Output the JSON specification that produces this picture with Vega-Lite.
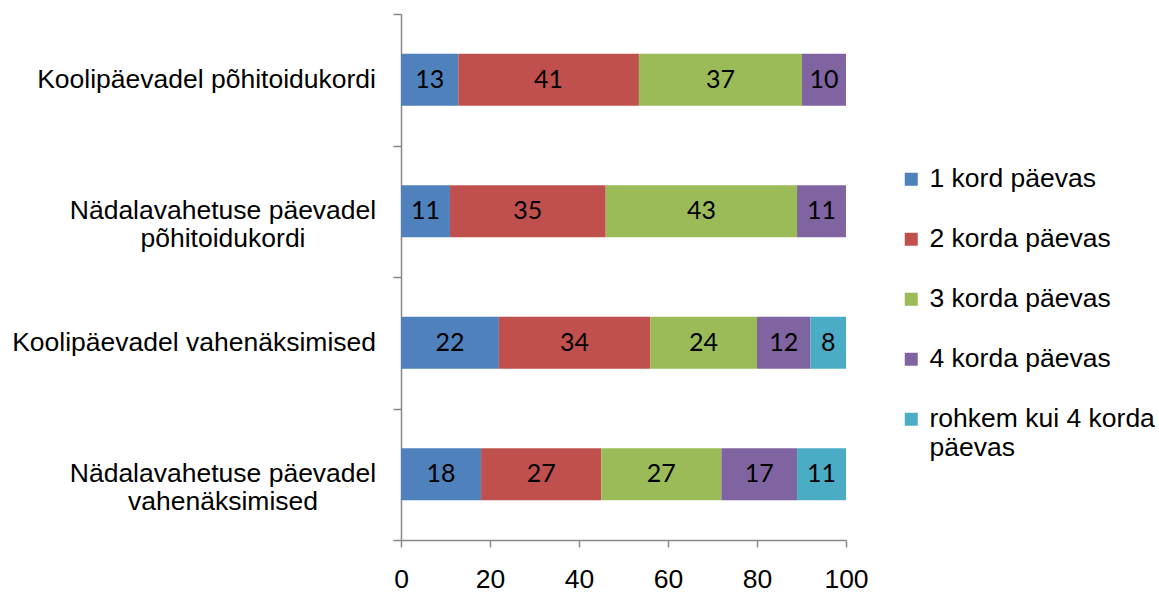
{
  "$schema": "https://vega.github.io/schema/vega-lite/v6.json",
  "autosize": {"type": "none"},
  "width": 445,
  "height": 526,
  "padding": {"left": 401, "top": 14, "right": 313, "bottom": 53},
  "background": "white",
  "config": {
    "view": {"stroke": null},
    "font": "Liberation Sans"
  },
  "data": {
    "values": [
      {"cat": "Koolipäevadel põhitoidukordi", "freq": "1 kord päevas", "v": 13},
      {"cat": "Koolipäevadel põhitoidukordi", "freq": "2 korda päevas", "v": 41},
      {"cat": "Koolipäevadel põhitoidukordi", "freq": "3 korda päevas", "v": 37},
      {"cat": "Koolipäevadel põhitoidukordi", "freq": "4 korda päevas", "v": 10},
      {"cat": "Nädalavahetuse päevadel põhitoidukordi", "freq": "1 kord päevas", "v": 11},
      {"cat": "Nädalavahetuse päevadel põhitoidukordi", "freq": "2 korda päevas", "v": 35},
      {"cat": "Nädalavahetuse päevadel põhitoidukordi", "freq": "3 korda päevas", "v": 43},
      {"cat": "Nädalavahetuse päevadel põhitoidukordi", "freq": "4 korda päevas", "v": 11},
      {"cat": "Koolipäevadel vahenäksimised", "freq": "1 kord päevas", "v": 22},
      {"cat": "Koolipäevadel vahenäksimised", "freq": "2 korda päevas", "v": 34},
      {"cat": "Koolipäevadel vahenäksimised", "freq": "3 korda päevas", "v": 24},
      {"cat": "Koolipäevadel vahenäksimised", "freq": "4 korda päevas", "v": 12},
      {"cat": "Koolipäevadel vahenäksimised", "freq": "rohkem kui 4 korda päevas", "v": 8},
      {"cat": "Nädalavahetuse päevadel vahenäksimised", "freq": "1 kord päevas", "v": 18},
      {"cat": "Nädalavahetuse päevadel vahenäksimised", "freq": "2 korda päevas", "v": 27},
      {"cat": "Nädalavahetuse päevadel vahenäksimised", "freq": "3 korda päevas", "v": 27},
      {"cat": "Nädalavahetuse päevadel vahenäksimised", "freq": "4 korda päevas", "v": 17},
      {"cat": "Nädalavahetuse päevadel vahenäksimised", "freq": "rohkem kui 4 korda päevas", "v": 11}
    ]
  },
  "encoding": {
    "y": {
      "field": "cat",
      "type": "nominal",
      "sort": ["Koolipäevadel põhitoidukordi", "Nädalavahetuse päevadel põhitoidukordi", "Koolipäevadel vahenäksimised", "Nädalavahetuse päevadel vahenäksimised"],
      "scale": {"paddingInner": 0, "paddingOuter": 0},
      "axis": {
        "title": null,
        "labels": false,
        "tickBand": "extent",
        "tickSize": 8,
        "tickColor": "#888888",
        "tickWidth": 1.5,
        "domainColor": "#888888",
        "domainWidth": 1.5
      }
    }
  },
  "layer": [
    {
      "mark": {"type": "bar", "height": {"band": 0.395}},
      "encoding": {
        "x": {
          "field": "v",
          "type": "quantitative",
          "stack": "normalize",
          "scale": {"domain": [0, 1], "nice": false},
          "axis": {
            "title": null,
            "values": [0, 0.2, 0.4, 0.6, 0.8, 1],
            "labelExpr": "format(datum.value * 100, 'd')",
            "grid": false,
            "tickSize": 7,
            "tickColor": "#888888",
            "tickWidth": 1.5,
            "domainColor": "#888888",
            "domainWidth": 1.5,
            "labelFont": "Liberation Sans",
            "labelFontSize": 26.5,
            "labelColor": "#000000",
            "labelPadding": 19,
            "labelFlush": false,
            "labelOverlap": false
          }
        },
        "order": {"field": "freq", "type": "ordinal", "sort": "ascending"},
        "color": {
          "field": "freq",
          "type": "nominal",
          "scale": {
            "domain": ["1 kord päevas", "2 korda päevas", "3 korda päevas", "4 korda päevas", "rohkem kui 4 korda päevas"],
            "range": ["#4F81BD", "#C0504D", "#9BBB59", "#8064A2", "#4BACC6"]
          },
          "legend": {
            "title": null,
            "orient": "none",
            "legendX": 497,
            "legendY": 152,
            "padding": 0,
            "symbolType": "square",
            "symbolSize": 169,
            "symbolStrokeWidth": 0,
            "labelFont": "Liberation Sans",
            "labelFontSize": 26.5,
            "labelColor": "#000000",
            "labelOffset": 5,
            "labelLimit": 0,
            "rowPadding": 33,
            "labelExpr": "datum.label == 'rohkem kui 4 korda päevas' ? ['rohkem kui 4 korda', 'päevas'] : datum.label"
          }
        }
      }
    },
    {
      "mark": {"type": "text", "font": "Lato", "fontSize": 25, "color": "#000000", "baseline": "middle", "align": "center"},
      "encoding": {
        "x": {"field": "v", "type": "quantitative", "stack": "normalize", "bandPosition": 0.5},
        "text": {"field": "v", "type": "quantitative"},
        "detail": {"field": "freq", "type": "nominal"},
        "order": {"field": "freq", "type": "ordinal", "sort": "ascending"}
      }
    },
    {
      "data": {
        "values": [
          {"cat": "Koolipäevadel põhitoidukordi", "label": "Koolipäevadel põhitoidukordi"},
          {"cat": "Koolipäevadel vahenäksimised", "label": "Koolipäevadel vahenäksimised"}
        ]
      },
      "mark": {"type": "text", "font": "Liberation Sans", "fontSize": 26.5, "color": "#000000", "baseline": "middle", "align": "right", "dx": -25},
      "encoding": {
        "x": {"datum": 0, "type": "quantitative"},
        "text": {"field": "label", "type": "nominal"}
      }
    },
    {
      "data": {
        "values": [
          {"cat": "Nädalavahetuse päevadel põhitoidukordi", "label": "Nädalavahetuse päevadel\npõhitoidukordi"},
          {"cat": "Nädalavahetuse päevadel vahenäksimised", "label": "Nädalavahetuse päevadel\nvahenäksimised"}
        ]
      },
      "mark": {"type": "text", "font": "Liberation Sans", "fontSize": 26.5, "color": "#000000", "baseline": "middle", "align": "center", "dx": -178, "lineBreak": "\n", "lineHeight": 28},
      "encoding": {
        "x": {"datum": 0, "type": "quantitative"},
        "text": {"field": "label", "type": "nominal"}
      }
    }
  ]
}
